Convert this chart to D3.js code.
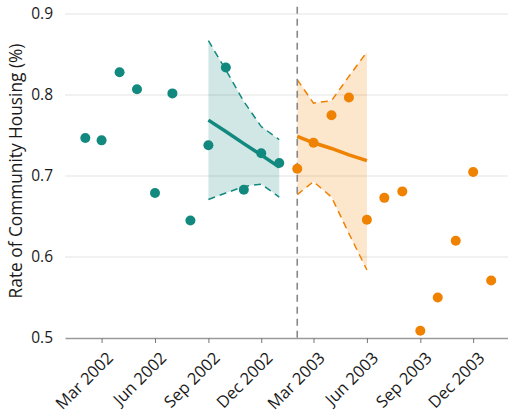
<!DOCTYPE html>
<html>
<head>
<meta charset="utf-8">
<script src="https://cdn.jsdelivr.net/npm/d3@7"></script>
<style>
  html, body { margin: 0; padding: 0; background: #fff; }
  svg { display: block; font-family: "Open Sans", "Noto Sans", sans-serif; }
</style>
</head>
<body>
<svg id="chart" width="508" height="418"></svg>
<script>
// Observed monthly rates, before and after the change point
const preMonths = ["2002-02","2002-03","2002-04","2002-05","2002-06","2002-07","2002-08","2002-09","2002-10","2002-11","2002-12","2003-01"];
const preValues = [0.747, 0.744, 0.828, 0.807, 0.679, 0.802, 0.645, 0.738, 0.834, 0.683, 0.728, 0.716];

const postMonths = ["2003-02","2003-03","2003-04","2003-05","2003-06","2003-07","2003-08","2003-09","2003-10","2003-11","2003-12","2004-01"];
const postValues = [0.709, 0.741, 0.775, 0.797, 0.646, 0.673, 0.681, 0.509, 0.550, 0.620, 0.705, 0.571];

// Fitted trend with its interval over the last five months of each period
const preFitMonths = ["2002-09","2002-10","2002-11","2002-12","2003-01"];
const preFit   = [0.769, 0.755, 0.740, 0.726, 0.711];
const preUpper = [0.867, 0.831, 0.792, 0.761, 0.745];
const preLower = [0.671, 0.679, 0.687, 0.690, 0.674];

const postFitMonths = ["2003-02","2003-03","2003-04","2003-05","2003-06"];
const postFit   = [0.749, 0.741, 0.734, 0.726, 0.719];
const postUpper = [0.819, 0.790, 0.793, 0.823, 0.853];
const postLower = [0.677, 0.693, 0.674, 0.629, 0.584];

const changePoint = "2003-02";
const xTickMonths = ["2002-03","2002-06","2002-09","2002-12","2003-03","2003-06","2003-09","2003-12"];
const yTicks = [0.5, 0.6, 0.7, 0.8, 0.9];
const yTitle = "Rate of Community Housing (%)";

const parse = d3.timeParse("%Y-%m");
const fmt = d3.timeFormat("%b %Y");

const teal = "#12897f";
const orange = "#ef8200";

const svg = d3.select("#chart");
const plotLeft = 65, plotRight = 508, plotTop = 14, plotBottom = 338;

const x = d3.scaleTime()
  .domain([new Date(2001, 11, 28), new Date(2004, 0, 30)])
  .range([plotLeft, plotRight]);
const y = d3.scaleLinear().domain([0.5, 0.9]).range([plotBottom, plotTop]);

// Horizontal grid
svg.append("g")
  .selectAll("line")
  .data(yTicks.filter(v => v > 0.5))
  .join("line")
  .attr("x1", plotLeft).attr("x2", plotRight)
  .attr("y1", d => y(d)).attr("y2", d => y(d))
  .attr("stroke", "#e3e3e3").attr("stroke-width", 1);

// Y axis labels
const yAxis = svg.append("g")
  .attr("transform", `translate(${plotLeft},0)`)
  .call(d3.axisLeft(y).tickValues(yTicks).tickFormat(d3.format(".1f")).tickSize(0).tickPadding(12));
yAxis.select(".domain").remove();
yAxis.selectAll("text").attr("font-size", 15.5).attr("fill", "#1a1a1a").attr("font-family", "Open Sans");

svg.append("text")
  .attr("transform", "translate(22,171) rotate(-90)")
  .attr("text-anchor", "middle")
  .attr("font-size", 17.3)
  .attr("fill", "#1a1a1a")
  .text(yTitle);

// X axis
const xAxis = svg.append("g")
  .attr("transform", `translate(0,${plotBottom})`)
  .call(d3.axisBottom(x).tickValues(xTickMonths.map(parse)).tickFormat(fmt).tickSize(5).tickSizeOuter(0));
xAxis.select(".domain").attr("stroke", "#9a9a9a").attr("stroke-width", 1.5);
xAxis.selectAll(".tick line").attr("stroke", "#777");
xAxis.selectAll("text")
  .attr("font-size", 16.5)
  .attr("fill", "#1a1a1a")
  .attr("font-family", "Open Sans")
  .attr("text-anchor", "end")
  .attr("dy", null)
  .attr("y", 0)
  .attr("transform", "translate(12,21) rotate(-45)");

// Interval bands
function drawFit(months, fit, upper, lower, color) {
  const rows = months.map((m, i) => ({ d: parse(m), f: fit[i], u: upper[i], l: lower[i] }));
  svg.append("path")
    .datum(rows)
    .attr("d", d3.area().x(r => x(r.d)).y0(r => y(r.l)).y1(r => y(r.u)))
    .attr("fill", color).attr("fill-opacity", 0.2);
  [r => r.u, r => r.l].forEach(acc => {
    svg.append("path")
      .datum(rows)
      .attr("d", d3.line().x(r => x(r.d)).y(r => y(acc(r))))
      .attr("fill", "none").attr("stroke", color)
      .attr("stroke-width", 1.5).attr("stroke-dasharray", "7,5");
  });
  return rows;
}
const preRows = drawFit(preFitMonths, preFit, preUpper, preLower, teal);
const postRows = drawFit(postFitMonths, postFit, postUpper, postLower, orange);

// Trend lines
[[preRows, teal], [postRows, orange]].forEach(([rows, color]) => {
  svg.append("path")
    .datum(rows)
    .attr("d", d3.line().x(r => x(r.d)).y(r => y(r.f)))
    .attr("fill", "none").attr("stroke", color).attr("stroke-width", 3.5);
});

// Change point marker
svg.append("line")
  .attr("x1", x(parse(changePoint))).attr("x2", x(parse(changePoint)))
  .attr("y1", y(0.909)).attr("y2", plotBottom)
  .attr("stroke", "#888").attr("stroke-width", 1.6).attr("stroke-dasharray", "7,5");

// Observed points
function drawPoints(months, values, color) {
  svg.append("g")
    .selectAll("circle")
    .data(months.map((m, i) => ({ d: parse(m), v: values[i] })))
    .join("circle")
    .attr("cx", p => x(p.d)).attr("cy", p => y(p.v))
    .attr("r", 5).attr("fill", color);
}
drawPoints(preMonths, preValues, teal);
drawPoints(postMonths, postValues, orange);
</script>
</body>
</html>
